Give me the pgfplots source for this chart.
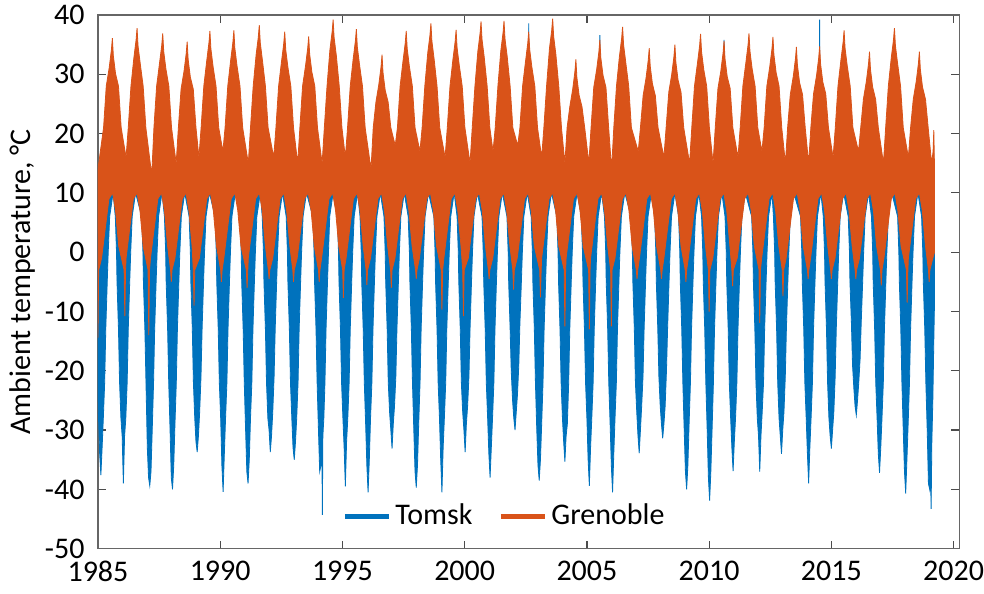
\documentclass[border=0pt]{standalone}
\usepackage{pgfplots}
\pgfplotsset{compat=1.18}
\usepgfplotslibrary{fillbetween}
\usepackage{fontspec}
\setmainfont{Carlito}
\definecolor{tblue}{RGB}{0,114,189}
\definecolor{gorange}{RGB}{217,83,25}
\begin{document}
\fontsize{15}{18}\selectfont
\begin{tikzpicture}
\begin{axis}[name=ax,
  width=431pt, height=267pt, scale only axis,
  xmin=1985, xmax=2020.24, ymin=-50, ymax=40,
  xtick={1985,1990,...,2020}, ytick={-50,-40,...,40},
  tick align=inside, major tick length=4pt,
  x tick label style={/pgf/number format/1000 sep={}},
  every tick label/.append style={inner sep=0pt},
  xticklabel shift=6pt, yticklabel shift=6.5pt,
  /pgf/number format/assume math mode=true,
  axis line style={black!60, line width=0.6pt},
  tick style={black!70, line width=0.6pt},
  ylabel={Ambient temperature, °C},
  every axis y label/.style={at={(axis description cs:-0.088,0.5)}, rotate=90, anchor=center, inner sep=0pt},
  legend style={at={(0.473,0.06)}, anchor=center, draw=none, fill=none, legend columns=2,
    /tikz/every even column/.append style={column sep=11pt}},
  legend image code/.code={\draw[line width=2.5pt] (0pt,0pt) -- (22pt,0pt);},
]
% Tomsk upper envelope
\addplot[draw=none, name path=bu, forget plot] coordinates {
(1985,3)(1985.25,14)(1985.44,26)(1985.59,33.1)(1985.74,24)(1985.9,10)
(1986,3)(1986.25,14)(1986.45,26)(1986.6,34.8)(1986.75,24)(1986.9,10)
(1987,3)(1987.25,14)(1987.5,26)(1987.65,33.9)(1987.8,24)(1987.9,10)
(1988,3)(1988.25,14)(1988.5,26)(1988.65,32.5)(1988.8,24)(1988.9,10)
(1989,3)(1989.25,14)(1989.43,26)(1989.58,34.3)(1989.73,24)(1989.9,10)
(1990,3)(1990.25,14)(1990.41,26)(1990.56,34.4)(1990.71,24)(1990.9,10)
(1991,3)(1991.25,14)(1991.45,26)(1991.6,35.3)(1991.75,24)(1991.9,10)
(1992,3)(1992.25,14)(1992.49,26)(1992.64,34.2)(1992.79,24)(1992.9,10)
(1993,3)(1993.25,14)(1993.47,26)(1993.62,33.4)(1993.77,24)(1993.9,10)
(1994,3)(1994.25,14)(1994.47,26)(1994.62,36.2)(1994.77,24)(1994.9,10)
(1995,3)(1995.25,14)(1995.42,26)(1995.57,34.6)(1995.72,24)(1995.9,10)
(1996,3)(1996.25,14)(1996.47,24)(1996.62,30.3)(1996.77,22)(1996.9,10)
(1997,3)(1997.25,14)(1997.46,26)(1997.61,34.3)(1997.76,24)(1997.9,10)
(1998,3)(1998.25,14)(1998.47,26)(1998.62,35.6)(1998.77,24)(1998.9,10)
(1999,3)(1999.25,14)(1999.5,26)(1999.65,34.5)(1999.8,24)(1999.9,10)
(2000,3)(2000.25,14)(2000.52,26)(2000.67,35.9)(2000.82,24)(2000.9,10)
(2001,3)(2001.25,14)(2001.46,26)(2001.61,36)(2001.76,24)(2001.9,10)
(2002,3)(2002.25,14)(2002.47,26)(2002.61,33)(2002.62,38.6)(2002.63,33)(2002.77,24)(2002.9,10)
(2003,3)(2003.25,14)(2003.45,26)(2003.6,36.4)(2003.75,24)(2003.9,10)
(2004,3)(2004.25,14)(2004.4,23)(2004.55,29.5)(2004.7,22)(2004.9,10)
(2005,3)(2005.25,14)(2005.38,26)(2005.52,32)(2005.53,36.6)(2005.54,32)(2005.68,24)(2005.9,10)
(2006,3)(2006.2,14)(2006.31,26)(2006.46,35)(2006.61,24)(2006.9,10)
(2007,3)(2007.25,14)(2007.4,25)(2007.55,31.4)(2007.7,24)(2007.9,10)
(2008,3)(2008.25,14)(2008.45,26)(2008.6,32)(2008.75,24)(2008.9,10)
(2009,3)(2009.25,14)(2009.5,26)(2009.65,33.8)(2009.8,24)(2009.9,10)
(2010,3)(2010.25,14)(2010.46,26)(2010.6,32)(2010.61,35.8)(2010.62,32)(2010.76,24)(2010.9,10)
(2011,3)(2011.25,14)(2011.48,26)(2011.63,33.9)(2011.78,24)(2011.9,10)
(2012,3)(2012.25,14)(2012.46,26)(2012.61,33.3)(2012.76,24)(2012.9,10)
(2013,3)(2013.25,14)(2013.42,25)(2013.57,31.6)(2013.72,24)(2013.9,10)
(2014,3)(2014.25,14)(2014.37,25)(2014.51,30)(2014.52,39.2)(2014.53,30)(2014.67,24)(2014.9,10)
(2015,3)(2015.25,14)(2015.37,26)(2015.52,34.4)(2015.67,24)(2015.9,10)
(2016,3)(2016.25,14)(2016.41,24)(2016.56,30.8)(2016.71,22)(2016.9,10)
(2017,3)(2017.25,14)(2017.43,26)(2017.58,34.8)(2017.73,24)(2017.9,10)
(2018,3)(2018.25,14)(2018.45,24)(2018.6,30.8)(2018.75,22)(2018.9,10)
(2019,3)(2019.22,8)
};
% Tomsk lower envelope
\addplot[draw=none, name path=bl, forget plot] coordinates {
(1985,-25)(1985.04,-30)(1985.07,-34)(1985.12,-37.6)(1985.17,-33)(1985.22,-28)(1985.275,-22)(1985.32,-13)(1985.38,-5)(1985.42,0)(1985.48,6)(1985.62,10)
(1985.71,6)(1985.76,0)(1985.78,-5)(1985.84,-13)(1985.885,-22)(1985.94,-28)(1985.99,-31)(1986.04,-39)(1986.09,-31)(1986.14,-28)(1986.195,-22)(1986.24,-13)(1986.3,-5)(1986.34,0)(1986.4,6)(1986.54,10)
(1986.79,6)(1986.84,0)(1986.86,-5)(1986.92,-13)(1986.965,-22)(1987.02,-33)(1987.07,-38)(1987.12,-39.4)(1987.17,-37)(1987.22,-30)(1987.275,-22)(1987.32,-13)(1987.38,-5)(1987.42,0)(1987.48,6)(1987.62,10)
(1987.72,6)(1987.77,0)(1987.79,-5)(1987.85,-13)(1987.895,-22)(1987.95,-30)(1988,-38)(1988.05,-40)(1988.1,-36)(1988.15,-29)(1988.205,-22)(1988.25,-13)(1988.31,-5)(1988.35,0)(1988.41,6)(1988.55,10)
(1988.73,6)(1988.78,0)(1988.8,-5)(1988.86,-13)(1988.905,-22)(1988.96,-28)(1989.01,-32)(1989.06,-33.7)(1989.11,-31)(1989.16,-27)(1989.215,-21)(1989.26,-13)(1989.32,-5)(1989.36,0)(1989.42,6)(1989.56,10)
(1989.79,6)(1989.84,0)(1989.86,-5)(1989.92,-13)(1989.965,-22)(1990.02,-28)(1990.07,-36)(1990.12,-40.4)(1990.17,-34)(1990.22,-28)(1990.275,-22)(1990.32,-13)(1990.38,-5)(1990.42,0)(1990.48,6)(1990.62,10)
(1990.81,6)(1990.86,0)(1990.88,-5)(1990.94,-13)(1990.985,-22)(1991.04,-30)(1991.09,-37)(1991.14,-39)(1991.19,-35)(1991.24,-28)(1991.295,-22)(1991.34,-13)(1991.4,-5)(1991.44,0)(1991.5,6)(1991.64,10)
(1991.72,6)(1991.77,0)(1991.79,-5)(1991.85,-13)(1991.895,-22)(1991.95,-28)(1992,-30)(1992.05,-33.7)(1992.1,-31)(1992.15,-27)(1992.205,-21)(1992.25,-13)(1992.31,-5)(1992.35,0)(1992.41,6)(1992.55,10)
(1992.7,6)(1992.75,0)(1992.77,-5)(1992.83,-13)(1992.875,-22)(1992.93,-28)(1992.98,-33)(1993.03,-35)(1993.08,-32)(1993.13,-28)(1993.185,-22)(1993.23,-13)(1993.29,-5)(1993.33,0)(1993.39,6)(1993.53,10)
(1993.79,6)(1993.84,0)(1993.86,-5)(1993.92,-13)(1993.965,-22)(1994.02,-30)(1994.07,-37)(1994.12,-36)(1994.16,-33)(1994.18,-44.3)(1994.2,-31)(1994.24,-28)(1994.285,-22)(1994.33,-13)(1994.39,-5)(1994.43,0)(1994.48,6)(1994.62,10)
(1994.79,6)(1994.84,0)(1994.86,-5)(1994.92,-13)(1994.965,-22)(1995.02,-28)(1995.07,-33)(1995.12,-39.5)(1995.17,-32)(1995.22,-28)(1995.275,-22)(1995.32,-13)(1995.38,-5)(1995.42,0)(1995.48,6)(1995.62,10)
(1995.72,6)(1995.77,0)(1995.79,-5)(1995.85,-13)(1995.895,-22)(1995.95,-29)(1996,-36)(1996.05,-40.5)(1996.1,-35)(1996.15,-28)(1996.205,-22)(1996.25,-13)(1996.31,-5)(1996.35,0)(1996.41,6)(1996.55,10)
(1996.7,6)(1996.75,0)(1996.77,-5)(1996.83,-13)(1996.875,-22)(1996.93,-27)(1996.98,-30)(1997.03,-33.1)(1997.08,-29)(1997.13,-26)(1997.185,-21)(1997.23,-13)(1997.29,-5)(1997.33,0)(1997.39,6)(1997.53,10)
(1997.69,6)(1997.74,0)(1997.76,-5)(1997.82,-13)(1997.865,-22)(1997.92,-30)(1997.97,-37)(1998.02,-39.7)(1998.07,-36)(1998.12,-29)(1998.175,-22)(1998.22,-13)(1998.28,-5)(1998.32,0)(1998.38,6)(1998.52,10)
(1998.74,6)(1998.79,0)(1998.81,-5)(1998.87,-13)(1998.915,-22)(1998.97,-28)(1999.02,-35)(1999.07,-40.5)(1999.12,-33)(1999.17,-28)(1999.225,-22)(1999.27,-13)(1999.33,-5)(1999.37,0)(1999.43,6)(1999.57,10)
(1999.69,6)(1999.74,0)(1999.76,-5)(1999.82,-13)(1999.865,-22)(1999.92,-27)(1999.97,-30)(2000.02,-33.7)(2000.07,-29)(2000.12,-26)(2000.175,-21)(2000.22,-13)(2000.28,-5)(2000.32,0)(2000.38,6)(2000.52,10)
(2000.71,6)(2000.76,0)(2000.78,-5)(2000.84,-13)(2000.885,-22)(2000.94,-28)(2000.99,-34)(2001.04,-38)(2001.09,-33)(2001.14,-28)(2001.195,-22)(2001.24,-13)(2001.3,-5)(2001.34,0)(2001.4,6)(2001.54,10)
(2001.73,6)(2001.78,0)(2001.8,-5)(2001.86,-13)(2001.905,-20)(2001.96,-25)(2002.01,-28)(2002.06,-30)(2002.11,-27)(2002.16,-24)(2002.215,-19)(2002.26,-12)(2002.32,-5)(2002.36,0)(2002.42,6)(2002.56,10)
(2002.72,6)(2002.77,0)(2002.79,-5)(2002.85,-13)(2002.895,-22)(2002.95,-30)(2003,-36)(2003.05,-38.5)(2003.1,-35)(2003.15,-29)(2003.205,-22)(2003.25,-13)(2003.31,-5)(2003.35,0)(2003.41,6)(2003.55,10)
(2003.77,6)(2003.82,0)(2003.84,-5)(2003.9,-13)(2003.945,-22)(2004,-28)(2004.05,-32)(2004.1,-35.3)(2004.15,-31)(2004.2,-29)(2004.255,-22)(2004.3,-13)(2004.36,-5)(2004.4,0)(2004.46,6)(2004.6,10)
(2004.77,6)(2004.82,0)(2004.84,-5)(2004.9,-13)(2004.945,-22)(2005,-28)(2005.05,-35)(2005.1,-39.4)(2005.15,-33)(2005.2,-28)(2005.255,-22)(2005.3,-13)(2005.36,-5)(2005.4,0)(2005.46,6)(2005.6,10)
(2005.72,6)(2005.77,0)(2005.79,-5)(2005.85,-13)(2005.895,-22)(2005.95,-29)(2006,-36)(2006.05,-40.5)(2006.1,-34)(2006.15,-28)(2006.205,-22)(2006.25,-13)(2006.31,-5)(2006.35,0)(2006.41,6)(2006.55,10)
(2006.81,6)(2006.86,0)(2006.88,-5)(2006.94,-13)(2006.985,-22)(2007.04,-27)(2007.09,-31)(2007.14,-33.9)(2007.19,-30)(2007.24,-26)(2007.295,-21)(2007.34,-13)(2007.4,-5)(2007.44,0)(2007.5,6)(2007.64,10)
(2007.77,6)(2007.82,0)(2007.84,-5)(2007.9,-13)(2007.945,-21)(2008,-26)(2008.05,-29)(2008.1,-31.4)(2008.15,-29)(2008.2,-26)(2008.255,-20)(2008.3,-13)(2008.36,-5)(2008.4,0)(2008.46,6)(2008.6,10)
(2008.75,6)(2008.8,0)(2008.82,-5)(2008.88,-13)(2008.925,-22)(2008.98,-30)(2009.03,-37)(2009.08,-40)(2009.13,-36)(2009.18,-29)(2009.235,-22)(2009.28,-13)(2009.34,-5)(2009.38,0)(2009.44,6)(2009.58,10)
(2009.69,6)(2009.74,0)(2009.76,-5)(2009.82,-13)(2009.865,-22)(2009.92,-30)(2009.97,-38)(2010.02,-41.9)(2010.07,-37)(2010.12,-30)(2010.175,-22)(2010.22,-13)(2010.28,-5)(2010.32,0)(2010.38,6)(2010.52,10)
(2010.65,6)(2010.7,0)(2010.72,-5)(2010.78,-13)(2010.825,-22)(2010.88,-28)(2010.93,-33)(2010.98,-36.9)(2011.03,-32)(2011.08,-28)(2011.135,-22)(2011.18,-13)(2011.24,-5)(2011.28,0)(2011.34,6)(2011.48,10)
(2011.74,6)(2011.79,0)(2011.81,-5)(2011.87,-13)(2011.915,-22)(2011.97,-28)(2012.02,-31)(2012.07,-37)(2012.12,-31)(2012.17,-27)(2012.225,-22)(2012.27,-13)(2012.33,-5)(2012.37,0)(2012.43,6)(2012.57,10)
(2012.63,6)(2012.68,0)(2012.7,-5)(2012.76,-13)(2012.805,-22)(2012.86,-28)(2012.91,-31)(2012.96,-34)(2013.01,-30)(2013.06,-27)(2013.115,-21)(2013.16,-13)(2013.22,-5)(2013.26,0)(2013.32,6)(2013.46,10)
(2013.74,6)(2013.79,0)(2013.81,-5)(2013.87,-13)(2013.915,-22)(2013.97,-28)(2014.02,-34)(2014.07,-39)(2014.12,-33)(2014.17,-28)(2014.225,-22)(2014.27,-13)(2014.33,-5)(2014.37,0)(2014.43,6)(2014.57,10)
(2014.67,6)(2014.72,0)(2014.74,-5)(2014.8,-13)(2014.845,-22)(2014.9,-28)(2014.95,-31)(2015,-33.1)(2015.05,-30)(2015.1,-27)(2015.155,-21)(2015.2,-13)(2015.26,-5)(2015.3,0)(2015.36,6)(2015.5,10)
(2015.69,6)(2015.74,0)(2015.76,-5)(2015.82,-12)(2015.865,-19)(2015.92,-23)(2015.97,-26)(2016.02,-27.5)(2016.07,-25)(2016.12,-22)(2016.175,-18)(2016.22,-12)(2016.28,-5)(2016.32,0)(2016.38,6)(2016.52,10)
(2016.64,6)(2016.69,0)(2016.71,-5)(2016.77,-13)(2016.815,-22)(2016.87,-28)(2016.92,-34)(2016.97,-37.2)(2017.02,-33)(2017.07,-28)(2017.125,-22)(2017.17,-13)(2017.23,-5)(2017.27,0)(2017.33,6)(2017.47,10)
(2017.71,6)(2017.76,0)(2017.78,-5)(2017.84,-13)(2017.885,-22)(2017.94,-30)(2017.99,-37)(2018.04,-40.7)(2018.09,-35)(2018.14,-29)(2018.195,-22)(2018.24,-13)(2018.3,-5)(2018.34,0)(2018.4,6)(2018.54,10)
(2018.69,6)(2018.74,0)(2018.76,-5)(2018.82,-13)(2018.865,-22)(2018.92,-30)(2018.97,-39)(2019.02,-40)(2019.05,-36)(2019.08,-43.3)(2019.11,-32)(2019.15,-25)(2019.19,-15)(2019.22,-8)
};
\addplot[fill=tblue, draw=tblue, line width=0.4pt, forget plot] fill between[of=bu and bl];
% Grenoble upper envelope
\addplot[draw=none, name path=ou, forget plot] coordinates {
(1985,14)(1985.23,21)(1985.34,28)(1985.46,31.1)(1985.55,34.1)(1985.59,36.1)(1985.63,33.1)(1985.72,30.1)(1985.84,28)(1985.95,21)
(1986.15,16)(1986.24,21)(1986.35,28)(1986.47,32.8)(1986.56,35.8)(1986.6,37.8)(1986.64,34.8)(1986.73,31.8)(1986.85,28)(1986.96,21)
(1987.2,13)(1987.29,21)(1987.4,28)(1987.52,31.9)(1987.61,34.9)(1987.65,36.9)(1987.69,33.9)(1987.78,30.9)(1987.9,28)(1988.01,21)
(1988.2,15)(1988.29,21)(1988.4,27.5)(1988.52,30.5)(1988.61,33.5)(1988.65,35.5)(1988.69,32.5)(1988.78,29.5)(1988.9,27.5)(1989.01,21)
(1989.13,16)(1989.22,21)(1989.33,28)(1989.45,32.3)(1989.54,35.3)(1989.58,37.3)(1989.62,34.3)(1989.71,31.3)(1989.83,28)(1989.94,21)
(1990.11,17)(1990.2,21)(1990.31,28)(1990.43,32.4)(1990.52,35.4)(1990.56,37.4)(1990.6,34.4)(1990.69,31.4)(1990.81,28)(1990.92,21)
(1991.15,15)(1991.24,21)(1991.35,28)(1991.47,33.3)(1991.56,36.3)(1991.6,38.3)(1991.64,35.3)(1991.73,32.3)(1991.85,28)(1991.96,21)
(1992.19,16)(1992.28,21)(1992.39,28)(1992.51,32.2)(1992.6,35.2)(1992.64,37.2)(1992.68,34.2)(1992.77,31.2)(1992.89,28)(1993,21)
(1993.17,15)(1993.26,21)(1993.37,28)(1993.49,31.4)(1993.58,34.4)(1993.62,36.4)(1993.66,33.4)(1993.75,30.4)(1993.87,28)(1993.98,21)
(1994.17,15)(1994.26,21)(1994.37,28)(1994.49,34.2)(1994.58,37.2)(1994.62,39.2)(1994.66,36.2)(1994.75,33.2)(1994.87,28)(1994.98,21)
(1995.12,16)(1995.21,21)(1995.32,28)(1995.44,32.6)(1995.53,35.6)(1995.57,37.6)(1995.61,34.6)(1995.7,31.6)(1995.82,28)(1995.93,21)
(1996.17,14)(1996.26,21)(1996.37,25.3)(1996.49,28.3)(1996.58,31.3)(1996.62,33.3)(1996.66,30.3)(1996.75,27.3)(1996.87,25.3)(1996.98,21)
(1997.16,18)(1997.25,21)(1997.36,28)(1997.48,32.3)(1997.57,35.3)(1997.61,37.3)(1997.65,34.3)(1997.74,31.3)(1997.86,28)(1997.97,21)
(1998.17,17)(1998.26,21)(1998.37,28)(1998.49,33.6)(1998.58,36.6)(1998.62,38.6)(1998.66,35.6)(1998.75,32.6)(1998.87,28)(1998.98,21)
(1999.2,16)(1999.29,21)(1999.4,28)(1999.52,32.5)(1999.61,35.5)(1999.65,37.5)(1999.69,34.5)(1999.78,31.5)(1999.9,28)(2000.01,21)
(2000.22,15)(2000.31,21)(2000.42,28)(2000.54,33.9)(2000.63,36.9)(2000.67,38.9)(2000.71,35.9)(2000.8,32.9)(2000.92,28)(2001.03,21)
(2001.16,17)(2001.25,21)(2001.36,28)(2001.48,34)(2001.57,37)(2001.61,39)(2001.65,36)(2001.74,33)(2001.86,28)(2001.97,21)
(2002.17,18)(2002.26,21)(2002.37,28)(2002.49,32.2)(2002.58,35.2)(2002.62,37.2)(2002.66,34.2)(2002.75,31.2)(2002.87,28)(2002.98,21)
(2003.15,16)(2003.24,21)(2003.35,28)(2003.47,34.4)(2003.56,37.4)(2003.6,39.4)(2003.64,36.4)(2003.73,33.4)(2003.85,28)(2003.96,21)
(2004.1,15)(2004.19,21)(2004.3,24.5)(2004.42,27.5)(2004.51,30.5)(2004.55,32.5)(2004.59,29.5)(2004.68,26.5)(2004.8,24.5)(2004.91,21)
(2005.08,15)(2005.17,21)(2005.28,27.8)(2005.4,30.8)(2005.49,33.8)(2005.53,35.8)(2005.57,32.8)(2005.66,29.8)(2005.78,27.8)(2005.89,21)
(2006.01,14)(2006.1,21)(2006.21,28)(2006.33,33)(2006.42,36)(2006.46,38)(2006.5,35)(2006.59,32)(2006.71,28)(2006.82,21)
(2007.1,17)(2007.19,21)(2007.3,26.4)(2007.42,29.4)(2007.51,32.4)(2007.55,34.4)(2007.59,31.4)(2007.68,28.4)(2007.8,26.4)(2007.91,21)
(2008.15,16)(2008.24,21)(2008.35,27)(2008.47,30)(2008.56,33)(2008.6,35)(2008.64,32)(2008.73,29)(2008.85,27)(2008.96,21)
(2009.2,15)(2009.29,21)(2009.4,28)(2009.52,31.8)(2009.61,34.8)(2009.65,36.8)(2009.69,33.8)(2009.78,30.8)(2009.9,28)(2010.01,21)
(2010.16,15)(2010.25,21)(2010.36,27.6)(2010.48,30.6)(2010.57,33.6)(2010.61,35.6)(2010.65,32.6)(2010.74,29.6)(2010.86,27.6)(2010.97,21)
(2011.18,16)(2011.27,21)(2011.38,28)(2011.5,31.9)(2011.59,34.9)(2011.63,36.9)(2011.67,33.9)(2011.76,30.9)(2011.88,28)(2011.99,21)
(2012.16,17)(2012.25,21)(2012.36,28)(2012.48,31.3)(2012.57,34.3)(2012.61,36.3)(2012.65,33.3)(2012.74,30.3)(2012.86,28)(2012.97,21)
(2013.12,15)(2013.21,21)(2013.32,26.6)(2013.44,29.6)(2013.53,32.6)(2013.57,34.6)(2013.61,31.6)(2013.7,28.6)(2013.82,26.6)(2013.93,21)
(2014.07,15)(2014.16,21)(2014.27,26.7)(2014.39,29.7)(2014.48,32.7)(2014.52,34.7)(2014.56,31.7)(2014.65,28.7)(2014.77,26.7)(2014.88,21)
(2015.07,16)(2015.16,21)(2015.27,28)(2015.39,32.4)(2015.48,35.4)(2015.52,37.4)(2015.56,34.4)(2015.65,31.4)(2015.77,28)(2015.88,21)
(2016.11,17)(2016.2,21)(2016.31,25.8)(2016.43,28.8)(2016.52,31.8)(2016.56,33.8)(2016.6,30.8)(2016.69,27.8)(2016.81,25.8)(2016.92,21)
(2017.13,15)(2017.22,21)(2017.33,28)(2017.45,32.8)(2017.54,35.8)(2017.58,37.8)(2017.62,34.8)(2017.71,31.8)(2017.83,28)(2017.94,21)
(2018.15,16)(2018.24,21)(2018.35,25.8)(2018.47,28.8)(2018.56,31.8)(2018.6,33.8)(2018.64,30.8)(2018.73,27.8)(2018.85,25.8)(2018.96,21)
(2019.1,15)(2019.16,17)(2019.19,20.6)(2019.22,14)
};
% Grenoble lower envelope
\addplot[draw=none, name path=ol, forget plot] coordinates {
(1985,-14.4)(1985.03,-3)(1985.15,-1)(1985.3,4)(1985.45,9)(1985.6,10)(1985.72,7)(1985.85,1)
(1986.07,-3)(1986.1,-10.8)(1986.13,-3)(1986.15,-1)(1986.3,4)(1986.45,9)(1986.6,10)(1986.72,7)(1986.85,1)
(1987.05,-3)(1987.08,-14)(1987.11,-3)(1987.15,-1)(1987.3,4)(1987.45,9)(1987.6,10)(1987.72,7)(1987.85,1)
(1987.97,-3)(1988,-5)(1988.03,-3)(1988.15,-1)(1988.3,4)(1988.45,9)(1988.6,10)(1988.72,7)(1988.85,1)
(1988.9,-3)(1988.93,-9)(1988.96,-3)(1989.15,-1)(1989.3,4)(1989.45,9)(1989.6,10)(1989.72,7)(1989.85,1)
(1990.02,-3)(1990.05,-5)(1990.08,-3)(1990.15,-1)(1990.3,4)(1990.45,9)(1990.6,10)(1990.72,7)(1990.85,1)
(1991.07,-3)(1991.1,-6)(1991.13,-3)(1991.15,-1)(1991.3,4)(1991.45,9)(1991.6,10)(1991.72,7)(1991.85,1)
(1991.97,-3)(1992,-4.5)(1992.03,-3)(1992.15,-1)(1992.3,4)(1992.45,9)(1992.6,10)(1992.72,7)(1992.85,1)
(1992.97,-3)(1993,-5)(1993.03,-3)(1993.15,-1)(1993.3,4)(1993.45,9)(1993.6,10)(1993.72,7)(1993.85,1)
(1994.02,-3)(1994.05,-5)(1994.08,-3)(1994.15,-1)(1994.3,4)(1994.45,9)(1994.6,10)(1994.72,7)(1994.85,1)
(1995.01,-3)(1995.04,-7.7)(1995.07,-3)(1995.15,-1)(1995.3,4)(1995.45,9)(1995.6,10)(1995.72,7)(1995.85,1)
(1995.97,-3)(1996,-5.5)(1996.03,-3)(1996.15,-1)(1996.3,4)(1996.45,9)(1996.6,10)(1996.72,7)(1996.85,1)
(1996.97,-3)(1997,-6)(1997.03,-3)(1997.15,-1)(1997.3,4)(1997.45,9)(1997.6,10)(1997.72,7)(1997.85,1)
(1997.99,-3)(1998.02,-4.5)(1998.05,-3)(1998.15,-1)(1998.3,4)(1998.45,9)(1998.6,10)(1998.72,7)(1998.85,1)
(1999.04,-3)(1999.07,-9.7)(1999.1,-3)(1999.15,-1)(1999.3,4)(1999.45,9)(1999.6,10)(1999.72,7)(1999.85,1)
(1999.92,-3)(1999.95,-10.8)(1999.98,-3)(2000.15,-1)(2000.3,4)(2000.45,9)(2000.6,10)(2000.72,7)(2000.85,1)
(2000.97,-3)(2001,-4.5)(2001.03,-3)(2001.15,-1)(2001.3,4)(2001.45,9)(2001.6,10)(2001.72,7)(2001.85,1)
(2001.97,-3)(2002,-6.3)(2002.03,-3)(2002.15,-1)(2002.3,4)(2002.45,9)(2002.6,10)(2002.72,7)(2002.85,1)
(2003.07,-3)(2003.1,-7.6)(2003.13,-3)(2003.15,-1)(2003.3,4)(2003.45,9)(2003.6,10)(2003.72,7)(2003.85,1)
(2004.07,-3)(2004.1,-12.5)(2004.13,-3)(2004.15,-1)(2004.3,4)(2004.45,9)(2004.6,10)(2004.72,7)(2004.85,1)
(2005.07,-3)(2005.1,-13)(2005.13,-3)(2005.15,-1)(2005.3,4)(2005.45,9)(2005.6,10)(2005.72,7)(2005.85,1)
(2005.97,-3)(2006,-12.5)(2006.03,-3)(2006.15,-1)(2006.3,4)(2006.45,9)(2006.6,10)(2006.72,7)(2006.85,1)
(2007.02,-3)(2007.05,-4.5)(2007.08,-3)(2007.15,-1)(2007.3,4)(2007.45,9)(2007.6,10)(2007.72,7)(2007.85,1)
(2008.02,-3)(2008.05,-4.5)(2008.08,-3)(2008.15,-1)(2008.3,4)(2008.45,9)(2008.6,10)(2008.72,7)(2008.85,1)
(2009.02,-3)(2009.05,-5)(2009.08,-3)(2009.15,-1)(2009.3,4)(2009.45,9)(2009.6,10)(2009.72,7)(2009.85,1)
(2009.97,-3)(2010,-10)(2010.03,-3)(2010.15,-1)(2010.3,4)(2010.45,9)(2010.6,10)(2010.72,7)(2010.85,1)
(2010.93,-3)(2010.96,-5.7)(2010.99,-3)(2011.15,-1)(2011.3,4)(2011.45,9)(2011.6,10)(2011.72,7)(2011.85,1)
(2012.04,-3)(2012.07,-11.9)(2012.1,-3)(2012.15,-1)(2012.3,4)(2012.45,9)(2012.6,10)(2012.72,7)(2012.85,1)
(2012.99,-3)(2013.02,-7.4)(2013.05,-3)(2013.15,-1)(2013.3,4)(2013.45,9)(2013.6,10)(2013.72,7)(2013.85,1)
(2014.02,-3)(2014.05,-4.5)(2014.08,-3)(2014.15,-1)(2014.3,4)(2014.45,9)(2014.6,10)(2014.72,7)(2014.85,1)
(2014.97,-3)(2015,-4.5)(2015.03,-3)(2015.15,-1)(2015.3,4)(2015.45,9)(2015.6,10)(2015.72,7)(2015.85,1)
(2015.97,-3)(2016,-4.5)(2016.03,-3)(2016.15,-1)(2016.3,4)(2016.45,9)(2016.6,10)(2016.72,7)(2016.85,1)
(2017.01,-3)(2017.04,-5.6)(2017.07,-3)(2017.15,-1)(2017.3,4)(2017.45,9)(2017.6,10)(2017.72,7)(2017.85,1)
(2018.07,-3)(2018.1,-8.5)(2018.13,-3)(2018.15,-1)(2018.3,4)(2018.45,9)(2018.6,10)(2018.72,7)(2018.85,1)
(2018.97,-3)(2019,-5)(2019.03,-3)(2019.15,-1)(2019.22,0)
};
\addplot[fill=gorange, draw=gorange, line width=0.4pt, forget plot] fill between[of=ou and ol];
\addlegendimage{tblue}
\addlegendentry{Tomsk}
\addlegendimage{gorange}
\addlegendentry{Grenoble}
\end{axis}
\path ([shift={(-49pt,-22.5pt)}]ax.south west) rectangle ([shift={(12pt,7.5pt)}]ax.north east);
\end{tikzpicture}
\end{document}
